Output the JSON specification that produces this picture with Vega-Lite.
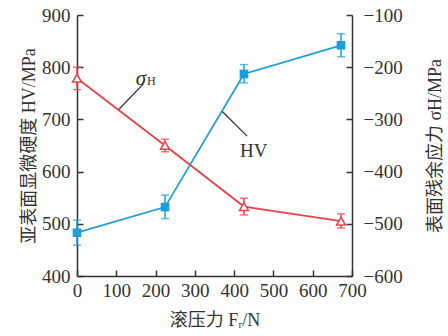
{
  "$schema": "https://vega.github.io/schema/vega-lite/v6.json",
  "width": 275,
  "height": 261,
  "autosize": {"type": "none"},
  "padding": {"left": 77, "top": 15, "right": 96, "bottom": 60},
  "config": {
    "view": {"stroke": null},
    "font": "Liberation Serif, Noto Sans CJK SC",
    "axis": {
      "grid": false,
      "domainColor": "#333333",
      "domainWidth": 1.5,
      "tickColor": "#333333",
      "tickWidth": 1.5,
      "tickSize": -6,
      "labelFont": "Liberation Serif",
      "labelFontSize": 19,
      "labelColor": "#333333",
      "labelFlush": false,
      "titleFont": "Liberation Serif, Noto Sans CJK SC",
      "titleFontSize": 18,
      "titleFontWeight": "normal",
      "titleColor": "#333333"
    }
  },
  "datasets": {
    "hardness": [
      {"force": 0, "hv": 483, "lo": 459, "hi": 507},
      {"force": 224, "hv": 532, "lo": 510, "hi": 555},
      {"force": 425, "hv": 787, "lo": 770, "hi": 805},
      {"force": 672, "hv": 842, "lo": 820, "hi": 864}
    ],
    "stress": [
      {"force": 0, "s": -221, "lo": -243, "hi": -200},
      {"force": 224, "s": -350, "lo": -362, "hi": -338},
      {"force": 425, "s": -467, "lo": -483, "hi": -451},
      {"force": 672, "s": -495, "lo": -508, "hi": -481}
    ],
    "leaders": [
      {"x": 105, "y": 718, "x2": 169, "y2": 768},
      {"x": 370, "y": 715, "x2": 433, "y2": 668}
    ],
    "sigmaLabel": [{"x": 163, "y": 778, "sym": "σ", "sub": "H"}],
    "hvLabel": [{"x": 450, "y": 640, "label": "HV"}]
  },
  "layer": [
    {
      "layer": [
        {
          "data": {"name": "hardness"},
          "mark": {"type": "line", "color": "#1e9fdc", "strokeWidth": 1.8},
          "encoding": {
            "x": {"field": "force", "type": "quantitative", "scale": {"domain": [0, 700]},
              "axis": {"values": [0, 100, 200, 300, 400, 500, 600, 700], "title": "滚压力 Fᵣ/N", "labelPadding": 11, "titlePadding": 11}},
            "y": {"field": "hv", "type": "quantitative", "scale": {"domain": [400, 900]},
              "axis": {"orient": "left", "values": [400, 500, 600, 700, 800, 900], "title": "亚表面显微硬度 HV/MPa", "labelPadding": 13, "titlePadding": 3}}
          }
        },
        {
          "data": {"name": "hardness"},
          "mark": {"type": "rule", "color": "#1e9fdc", "strokeWidth": 1.5},
          "encoding": {
            "x": {"field": "force", "type": "quantitative", "scale": {"domain": [0, 700]},
              "axis": {"values": [0, 100, 200, 300, 400, 500, 600, 700], "title": "滚压力 Fᵣ/N", "labelPadding": 11, "titlePadding": 11}},
            "y": {"field": "lo", "type": "quantitative", "scale": {"domain": [400, 900]},
              "axis": {"orient": "left", "values": [400, 500, 600, 700, 800, 900], "title": "亚表面显微硬度 HV/MPa", "labelPadding": 13, "titlePadding": 3}},
            "y2": {"field": "hi"}
          }
        },
        {
          "data": {"name": "hardness"},
          "mark": {"type": "tick", "orient": "horizontal", "color": "#1e9fdc", "size": 8, "thickness": 1.5},
          "encoding": {
            "x": {"field": "force", "type": "quantitative", "scale": {"domain": [0, 700]},
              "axis": {"values": [0, 100, 200, 300, 400, 500, 600, 700], "title": "滚压力 Fᵣ/N", "labelPadding": 11, "titlePadding": 11}},
            "y": {"field": "lo", "type": "quantitative", "scale": {"domain": [400, 900]},
              "axis": {"orient": "left", "values": [400, 500, 600, 700, 800, 900], "title": "亚表面显微硬度 HV/MPa", "labelPadding": 13, "titlePadding": 3}}
          }
        },
        {
          "data": {"name": "hardness"},
          "mark": {"type": "tick", "orient": "horizontal", "color": "#1e9fdc", "size": 8, "thickness": 1.5},
          "encoding": {
            "x": {"field": "force", "type": "quantitative", "scale": {"domain": [0, 700]},
              "axis": {"values": [0, 100, 200, 300, 400, 500, 600, 700], "title": "滚压力 Fᵣ/N", "labelPadding": 11, "titlePadding": 11}},
            "y": {"field": "hi", "type": "quantitative", "scale": {"domain": [400, 900]},
              "axis": {"orient": "left", "values": [400, 500, 600, 700, 800, 900], "title": "亚表面显微硬度 HV/MPa", "labelPadding": 13, "titlePadding": 3}}
          }
        },
        {
          "data": {"name": "hardness"},
          "mark": {"type": "point", "shape": "square", "filled": true, "color": "#1e9fdc", "size": 75, "opacity": 1},
          "encoding": {
            "x": {"field": "force", "type": "quantitative", "scale": {"domain": [0, 700]},
              "axis": {"values": [0, 100, 200, 300, 400, 500, 600, 700], "title": "滚压力 Fᵣ/N", "labelPadding": 11, "titlePadding": 11}},
            "y": {"field": "hv", "type": "quantitative", "scale": {"domain": [400, 900]},
              "axis": {"orient": "left", "values": [400, 500, 600, 700, 800, 900], "title": "亚表面显微硬度 HV/MPa", "labelPadding": 13, "titlePadding": 3}}
          }
        },
        {
          "data": {"name": "leaders"},
          "mark": {"type": "rule", "color": "#333333", "strokeWidth": 1.3},
          "encoding": {
            "x": {"field": "x", "type": "quantitative", "scale": {"domain": [0, 700]},
              "axis": {"values": [0, 100, 200, 300, 400, 500, 600, 700], "title": "滚压力 Fᵣ/N", "labelPadding": 11, "titlePadding": 11}},
            "y": {"field": "y", "type": "quantitative", "scale": {"domain": [400, 900]},
              "axis": {"orient": "left", "values": [400, 500, 600, 700, 800, 900], "title": "亚表面显微硬度 HV/MPa", "labelPadding": 13, "titlePadding": 3}},
            "x2": {"field": "x2"},
            "y2": {"field": "y2"}
          }
        },
        {
          "data": {"name": "sigmaLabel"},
          "mark": {"type": "text", "font": "Liberation Serif", "fontStyle": "italic", "fontSize": 21, "color": "#333333", "align": "center", "baseline": "middle"},
          "encoding": {
            "x": {"field": "x", "type": "quantitative", "scale": {"domain": [0, 700]},
              "axis": {"values": [0, 100, 200, 300, 400, 500, 600, 700], "title": "滚压力 Fᵣ/N", "labelPadding": 11, "titlePadding": 11}},
            "y": {"field": "y", "type": "quantitative", "scale": {"domain": [400, 900]},
              "axis": {"orient": "left", "values": [400, 500, 600, 700, 800, 900], "title": "亚表面显微硬度 HV/MPa", "labelPadding": 13, "titlePadding": 3}},
            "text": {"field": "sym"}
          }
        },
        {
          "data": {"name": "sigmaLabel"},
          "mark": {"type": "text", "font": "Liberation Serif", "fontSize": 12, "color": "#333333", "align": "left", "baseline": "middle", "dx": 6, "dy": 2},
          "encoding": {
            "x": {"field": "x", "type": "quantitative", "scale": {"domain": [0, 700]},
              "axis": {"values": [0, 100, 200, 300, 400, 500, 600, 700], "title": "滚压力 Fᵣ/N", "labelPadding": 11, "titlePadding": 11}},
            "y": {"field": "y", "type": "quantitative", "scale": {"domain": [400, 900]},
              "axis": {"orient": "left", "values": [400, 500, 600, 700, 800, 900], "title": "亚表面显微硬度 HV/MPa", "labelPadding": 13, "titlePadding": 3}},
            "text": {"field": "sub"}
          }
        },
        {
          "data": {"name": "hvLabel"},
          "mark": {"type": "text", "font": "Liberation Serif", "fontSize": 19, "color": "#333333", "align": "center", "baseline": "middle"},
          "encoding": {
            "x": {"field": "x", "type": "quantitative", "scale": {"domain": [0, 700]},
              "axis": {"values": [0, 100, 200, 300, 400, 500, 600, 700], "title": "滚压力 Fᵣ/N", "labelPadding": 11, "titlePadding": 11}},
            "y": {"field": "y", "type": "quantitative", "scale": {"domain": [400, 900]},
              "axis": {"orient": "left", "values": [400, 500, 600, 700, 800, 900], "title": "亚表面显微硬度 HV/MPa", "labelPadding": 13, "titlePadding": 3}},
            "text": {"field": "label"}
          }
        }
      ]
    },
    {
      "layer": [
        {
          "data": {"name": "stress"},
          "mark": {"type": "line", "color": "#e8424a", "strokeWidth": 1.8},
          "encoding": {
            "x": {"field": "force", "type": "quantitative", "scale": {"domain": [0, 700]},
              "axis": {"values": [0, 100, 200, 300, 400, 500, 600, 700], "title": "滚压力 Fᵣ/N", "labelPadding": 11, "titlePadding": 11}},
            "y": {"field": "s", "type": "quantitative", "scale": {"domain": [-600, -100]},
              "axis": {"orient": "right", "values": [-600, -500, -400, -300, -200, -100], "title": "表面残余应力 σH/MPa", "titleAngle": 270, "labelPadding": 17, "titlePadding": 42}}
          }
        },
        {
          "data": {"name": "stress"},
          "mark": {"type": "rule", "color": "#e8424a", "strokeWidth": 1.5},
          "encoding": {
            "x": {"field": "force", "type": "quantitative", "scale": {"domain": [0, 700]},
              "axis": {"values": [0, 100, 200, 300, 400, 500, 600, 700], "title": "滚压力 Fᵣ/N", "labelPadding": 11, "titlePadding": 11}},
            "y": {"field": "lo", "type": "quantitative", "scale": {"domain": [-600, -100]},
              "axis": {"orient": "right", "values": [-600, -500, -400, -300, -200, -100], "title": "表面残余应力 σH/MPa", "titleAngle": 270, "labelPadding": 17, "titlePadding": 42}},
            "y2": {"field": "hi"}
          }
        },
        {
          "data": {"name": "stress"},
          "mark": {"type": "tick", "orient": "horizontal", "color": "#e8424a", "size": 8, "thickness": 1.5},
          "encoding": {
            "x": {"field": "force", "type": "quantitative", "scale": {"domain": [0, 700]},
              "axis": {"values": [0, 100, 200, 300, 400, 500, 600, 700], "title": "滚压力 Fᵣ/N", "labelPadding": 11, "titlePadding": 11}},
            "y": {"field": "lo", "type": "quantitative", "scale": {"domain": [-600, -100]},
              "axis": {"orient": "right", "values": [-600, -500, -400, -300, -200, -100], "title": "表面残余应力 σH/MPa", "titleAngle": 270, "labelPadding": 17, "titlePadding": 42}}
          }
        },
        {
          "data": {"name": "stress"},
          "mark": {"type": "tick", "orient": "horizontal", "color": "#e8424a", "size": 8, "thickness": 1.5},
          "encoding": {
            "x": {"field": "force", "type": "quantitative", "scale": {"domain": [0, 700]},
              "axis": {"values": [0, 100, 200, 300, 400, 500, 600, 700], "title": "滚压力 Fᵣ/N", "labelPadding": 11, "titlePadding": 11}},
            "y": {"field": "hi", "type": "quantitative", "scale": {"domain": [-600, -100]},
              "axis": {"orient": "right", "values": [-600, -500, -400, -300, -200, -100], "title": "表面残余应力 σH/MPa", "titleAngle": 270, "labelPadding": 17, "titlePadding": 42}}
          }
        },
        {
          "data": {"name": "stress"},
          "mark": {"type": "point", "shape": "triangle-up", "filled": false, "fill": "white", "fillOpacity": 1, "stroke": "#e8424a", "strokeWidth": 1.5, "size": 80, "opacity": 1},
          "encoding": {
            "x": {"field": "force", "type": "quantitative", "scale": {"domain": [0, 700]},
              "axis": {"values": [0, 100, 200, 300, 400, 500, 600, 700], "title": "滚压力 Fᵣ/N", "labelPadding": 11, "titlePadding": 11}},
            "y": {"field": "s", "type": "quantitative", "scale": {"domain": [-600, -100]},
              "axis": {"orient": "right", "values": [-600, -500, -400, -300, -200, -100], "title": "表面残余应力 σH/MPa", "titleAngle": 270, "labelPadding": 17, "titlePadding": 42}}
          }
        }
      ]
    }
  ],
  "resolve": {"scale": {"y": "independent"}}
}
